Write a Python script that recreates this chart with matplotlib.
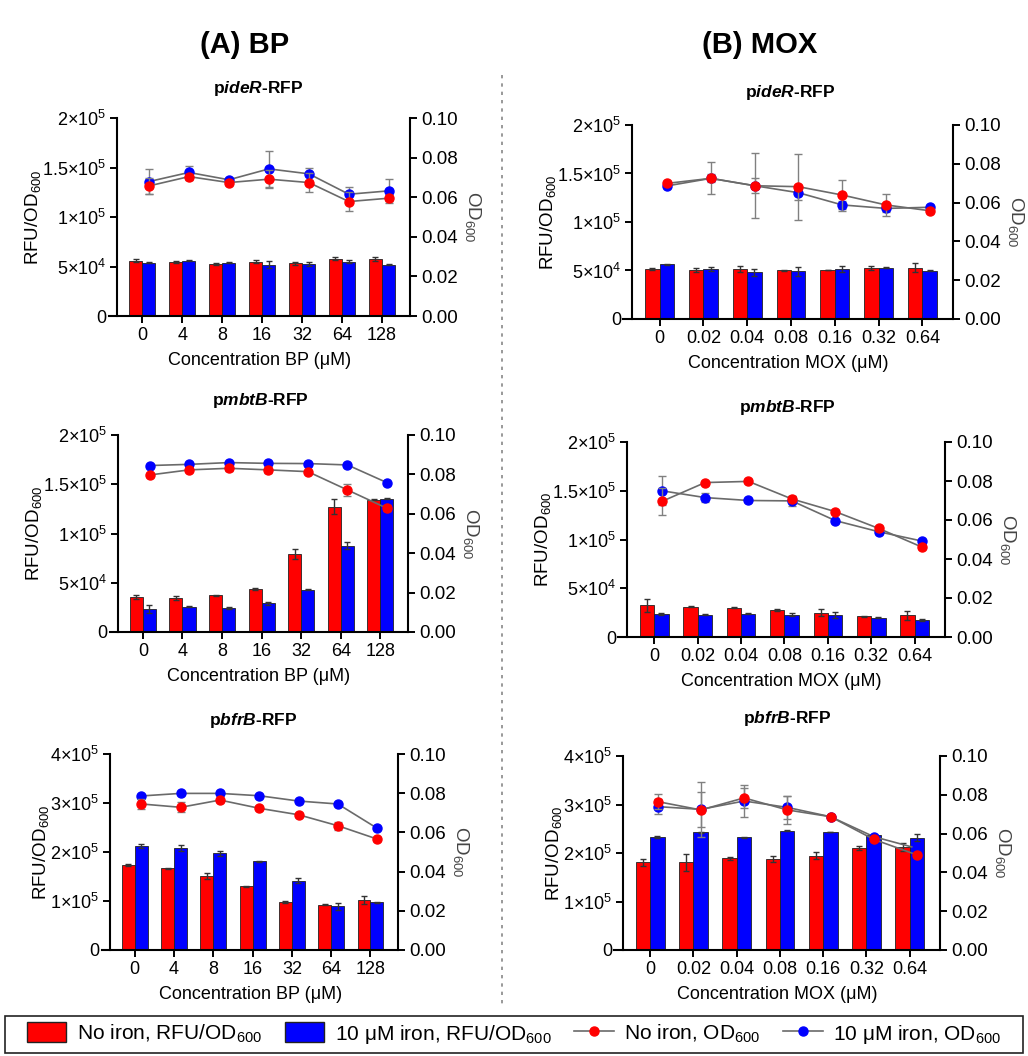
import matplotlib
matplotlib.use('Agg')
import matplotlib.pyplot as plt
import numpy as np
from matplotlib.lines import Line2D
from matplotlib.patches import Patch, Rectangle

plt.rcParams['font.family'] = ['Liberation Sans', 'DejaVu Sans']
plt.rcParams['mathtext.fontset'] = 'custom'
plt.rcParams['mathtext.rm'] = 'Liberation Sans'
plt.rcParams['mathtext.it'] = 'Liberation Sans:italic'
plt.rcParams['mathtext.bf'] = 'Liberation Sans:bold'
plt.rcParams['mathtext.bfit'] = 'Liberation Sans:bold:italic'

W, H = 1028, 1056
RED = '#ff0000'
BLUE = '#0000ff'
LINE = '#6a6a6a'
ECOL = '#808080'

bp_labels = ['0', '4', '8', '16', '32', '64', '128']
mox_labels = ['0', '0.02', '0.04', '0.08', '0.16', '0.32', '0.64']

# ---- pideR, BP ----
ideR_bp_rfu_no = [56000, 54500, 52500, 55000, 53500, 58000, 58000]
ideR_bp_rfu_no_err = [1500, 800, 1200, 1500, 1500, 1500, 2000]
ideR_bp_rfu_fe = [54000, 56000, 54000, 52000, 53000, 55000, 52000]
ideR_bp_rfu_fe_err = [800, 800, 800, 4000, 2000, 1500, 500]
ideR_bp_od_no = [0.0657, 0.0704, 0.0674, 0.0691, 0.0674, 0.0578, 0.0595]
ideR_bp_od_no_err = [0.004, 0.0015, 0.001, 0.0045, 0.005, 0.005, 0.0015]
ideR_bp_od_fe = [0.0679, 0.0725, 0.0688, 0.0743, 0.0718, 0.0615, 0.0632]
ideR_bp_od_fe_err = [0.0062, 0.0035, 0.001, 0.009, 0.003, 0.0035, 0.006]

# ---- pideR, MOX ----
ideR_mox_rfu_no = [51500, 50500, 51500, 50000, 50500, 53000, 53000]
ideR_mox_rfu_no_err = [800, 2000, 3500, 500, 500, 2000, 5000]
ideR_mox_rfu_fe = [56500, 51500, 48000, 49000, 51500, 53000, 49500]
ideR_mox_rfu_fe_err = [500, 2500, 3500, 5000, 3500, 800, 500]
ideR_mox_od_no = [0.0699, 0.0725, 0.0687, 0.0682, 0.0639, 0.0588, 0.0558]
ideR_mox_od_no_err = [0.001, 0.0082, 0.0167, 0.017, 0.008, 0.0055, 0.001]
ideR_mox_od_fe = [0.0686, 0.0725, 0.0687, 0.0651, 0.0588, 0.0570, 0.0576]
ideR_mox_od_fe_err = [0.001, 0.002, 0.004, 0.004, 0.002, 0.002, 0.001]

# ---- pmbtB, BP ----
mbtB_bp_rfu_no = [35100, 34100, 37200, 43600, 79000, 127400, 134100]
mbtB_bp_rfu_no_err = [2000, 2000, 500, 1000, 5000, 8000, 500]
mbtB_bp_rfu_fe = [23600, 25700, 24300, 29000, 42900, 87800, 135100]
mbtB_bp_rfu_fe_err = [4000, 500, 1000, 1500, 500, 4000, 500]
mbtB_bp_od_no = [0.0797, 0.0823, 0.0831, 0.0823, 0.0814, 0.0721, 0.0628]
mbtB_bp_od_no_err = [0.0008, 0.001, 0.0012, 0.0015, 0.0008, 0.003, 0.0015]
mbtB_bp_od_fe = [0.0845, 0.0851, 0.0860, 0.0856, 0.0855, 0.0848, 0.0758]
mbtB_bp_od_fe_err = [0.0005, 0.0005, 0.0005, 0.0005, 0.0005, 0.0005, 0.0005]

# ---- pmbtB, MOX ----
mbtB_mox_rfu_no = [32600, 30900, 29800, 27800, 25000, 21300, 22300]
mbtB_mox_rfu_no_err = [6500, 500, 500, 800, 3800, 500, 4800]
mbtB_mox_rfu_fe = [23700, 23000, 23700, 23000, 23000, 19900, 17500]
mbtB_mox_rfu_fe_err = [1000, 500, 500, 1500, 3000, 500, 1000]
mbtB_mox_od_no = [0.0695, 0.0792, 0.0798, 0.0708, 0.0643, 0.0557, 0.0461]
mbtB_mox_od_no_err = [0.007, 0.001, 0.001, 0.0015, 0.001, 0.001, 0.001]
mbtB_mox_od_fe = [0.0750, 0.0715, 0.0700, 0.0698, 0.0597, 0.0540, 0.0492]
mbtB_mox_od_fe_err = [0.0074, 0.0025, 0.001, 0.0025, 0.001, 0.001, 0.001]

# ---- pbfrB, BP ----
bfrB_bp_rfu_no = [172800, 166700, 151700, 129900, 98000, 92500, 101400]
bfrB_bp_rfu_no_err = [2000, 1000, 6000, 1000, 1500, 1000, 8000]
bfrB_bp_rfu_fe = [212200, 208200, 197300, 181000, 141500, 89100, 97300]
bfrB_bp_rfu_fe_err = [4000, 7000, 5000, 1000, 5000, 7000, 1000]
bfrB_bp_od_no = [0.0745, 0.0728, 0.0765, 0.0723, 0.0690, 0.0634, 0.0566]
bfrB_bp_od_no_err = [0.0025, 0.0025, 0.001, 0.001, 0.001, 0.002, 0.001]
bfrB_bp_od_fe = [0.0786, 0.0799, 0.0799, 0.0787, 0.0760, 0.0745, 0.0621]
bfrB_bp_od_fe_err = [0.0005, 0.0005, 0.0005, 0.0005, 0.0005, 0.0005, 0.0005]

# ---- pbfrB, MOX ----
bfrB_mox_rfu_no = [180700, 180700, 189000, 187600, 194500, 210300, 213100]
bfrB_mox_rfu_no_err = [7000, 18000, 3000, 7000, 7000, 4000, 8000]
bfrB_mox_rfu_fe = [232300, 242600, 232300, 246000, 243300, 237100, 231600]
bfrB_mox_rfu_fe_err = [2000, 1000, 500, 1000, 1000, 1000, 7000]
bfrB_mox_od_no = [0.0765, 0.0722, 0.0784, 0.0722, 0.0687, 0.0570, 0.0490]
bfrB_mox_od_no_err = [0.004, 0.009, 0.005, 0.007, 0.001, 0.001, 0.001]
bfrB_mox_od_fe = [0.0739, 0.0725, 0.0768, 0.0735, 0.0687, 0.0584, 0.0524]
bfrB_mox_od_fe_err = [0.004, 0.014, 0.008, 0.006, 0.001, 0.001, 0.001]

ticks_2e5 = [0, 5e4, 1e5, 1.5e5, 2e5]
labels_2e5 = ['0', r'5×10$^{4}$', r'1×10$^{5}$', r'1.5×10$^{5}$', r'2×10$^{5}$']
ticks_4e5 = [0, 1e5, 2e5, 3e5, 4e5]
labels_4e5 = ['0', r'1×10$^{5}$', r'2×10$^{5}$', r'3×10$^{5}$', r'4×10$^{5}$']

fig = plt.figure(figsize=(W / 100, H / 100), dpi=100)

XL, XR, EXT = -0.63, 6.7, 0.2


def panel(box, title, title_xy, xcats, xlabel, yticks, ylabels,
          rno, rno_e, rfe, rfe_e, ono, ono_e, ofe, ofe_e):
    L, R, T, B = box
    unit = (R - L) / (XR - XL)
    left_px = L - EXT * unit
    ax = fig.add_axes([left_px / W, 1 - B / H, (R - left_px) / W, (B - T) / H])
    x = np.arange(len(xcats))
    bw = 0.33
    ekw = dict(ecolor='#333333', elinewidth=1.0, capsize=2.5, capthick=1.0)
    ax.bar(x - bw / 2, rno, bw, color=RED, edgecolor='#222222', linewidth=0.6,
           yerr=rno_e, error_kw=ekw, zorder=2)
    ax.bar(x + bw / 2, rfe, bw, color=BLUE, edgecolor='#222222', linewidth=0.6,
           yerr=rfe_e, error_kw=ekw, zorder=2)
    ax.set_xlim(XL - EXT, XR)
    ax.set_ylim(0, yticks[-1])
    ax.set_yticks(yticks)
    ax.set_yticklabels(ylabels)
    ax.set_xticks(x)
    ax.set_xticklabels(xcats)
    ax.spines['left'].set_position(('data', XL))
    ax.spines['top'].set_visible(False)
    ax.spines['right'].set_visible(False)
    for s in ('left', 'bottom'):
        ax.spines[s].set_linewidth(1.5)
    ax.tick_params(direction='out', length=5, width=1.4, labelsize=13, pad=3)
    ax.set_ylabel('RFU/OD$_{600}$', fontsize=13.5, labelpad=-1)
    ax.set_xlabel(xlabel, fontsize=13, labelpad=6)

    ax2 = ax.twinx()
    ax2.set_ylim(0, 0.10)
    ax2.set_yticks([0, 0.02, 0.04, 0.06, 0.08, 0.10])
    ax2.set_yticklabels(['0.00', '0.02', '0.04', '0.06', '0.08', '0.10'])
    for s in ('left', 'top', 'bottom'):
        ax2.spines[s].set_visible(False)
    ax2.spines['right'].set_linewidth(1.5)
    ax2.tick_params(direction='out', length=5, width=1.4, labelsize=13.5, pad=3)
    ax2.set_ylabel('OD$_{600}$', fontsize=13.5, rotation=270, labelpad=18, color='#444444')
    xo = x + 0.17
    ax2.errorbar(xo, ofe, yerr=ofe_e, fmt='-o', color=LINE, lw=1.2, ms=6.5,
                 mfc=BLUE, mec=BLUE, ecolor=ECOL, elinewidth=1.0, capsize=3, zorder=3)
    ax2.errorbar(xo, ono, yerr=ono_e, fmt='-o', color=LINE, lw=1.2, ms=6.5,
                 mfc=RED, mec=RED, ecolor=ECOL, elinewidth=1.0, capsize=3, zorder=4)
    fig.text(title_xy[0] / W, 1 - title_xy[1] / H, title, ha='center', va='center',
             fontsize=12.5, fontweight='bold')
    return ax


panel((117, 410, 118, 316), r'p$\mathbfit{ideR}$-RFP', (258, 88), bp_labels,
      'Concentration BP (μM)', ticks_2e5, labels_2e5,
      ideR_bp_rfu_no, ideR_bp_rfu_no_err, ideR_bp_rfu_fe, ideR_bp_rfu_fe_err,
      ideR_bp_od_no, ideR_bp_od_no_err, ideR_bp_od_fe, ideR_bp_od_fe_err)
panel((632, 953, 125, 319), r'p$\mathbfit{ideR}$-RFP', (790, 92), mox_labels,
      'Concentration MOX (μM)', ticks_2e5, labels_2e5,
      ideR_mox_rfu_no, ideR_mox_rfu_no_err, ideR_mox_rfu_fe, ideR_mox_rfu_fe_err,
      ideR_mox_od_no, ideR_mox_od_no_err, ideR_mox_od_fe, ideR_mox_od_fe_err)
panel((118, 408, 435, 632), r'p$\mathbfit{mbtB}$-RFP', (260, 400), bp_labels,
      'Concentration BP (μM)', ticks_2e5, labels_2e5,
      mbtB_bp_rfu_no, mbtB_bp_rfu_no_err, mbtB_bp_rfu_fe, mbtB_bp_rfu_fe_err,
      mbtB_bp_od_no, mbtB_bp_od_no_err, mbtB_bp_od_fe, mbtB_bp_od_fe_err)
panel((627, 945, 442, 637), r'p$\mathbfit{mbtB}$-RFP', (787, 407), mox_labels,
      'Concentration MOX (μM)', ticks_2e5, labels_2e5,
      mbtB_mox_rfu_no, mbtB_mox_rfu_no_err, mbtB_mox_rfu_fe, mbtB_mox_rfu_fe_err,
      mbtB_mox_od_no, mbtB_mox_od_no_err, mbtB_mox_od_fe, mbtB_mox_od_fe_err)
panel((110, 398, 754, 950), r'p$\mathbfit{bfrB}$-RFP', (253, 720), bp_labels,
      'Concentration BP (μM)', ticks_4e5, labels_4e5,
      bfrB_bp_rfu_no, bfrB_bp_rfu_no_err, bfrB_bp_rfu_fe, bfrB_bp_rfu_fe_err,
      bfrB_bp_od_no, bfrB_bp_od_no_err, bfrB_bp_od_fe, bfrB_bp_od_fe_err)
panel((623, 940, 756, 950), r'p$\mathbfit{bfrB}$-RFP', (787, 718), mox_labels,
      'Concentration MOX (μM)', ticks_4e5, labels_4e5,
      bfrB_mox_rfu_no, bfrB_mox_rfu_no_err, bfrB_mox_rfu_fe, bfrB_mox_rfu_fe_err,
      bfrB_mox_od_no, bfrB_mox_od_no_err, bfrB_mox_od_fe, bfrB_mox_od_fe_err)

fig.text(245 / W, 1 - 45 / H, '(A) BP', ha='center', va='center', fontsize=21, fontweight='bold')
fig.text(760 / W, 1 - 45 / H, '(B) MOX', ha='center', va='center', fontsize=21, fontweight='bold')

fig.add_artist(Line2D([502 / W, 502 / W], [1 - 75 / H, 1 - 1005 / H], transform=fig.transFigure,
                      ls=(0, (2, 3)), color='#888888', lw=1.2))

# legend frame spanning the full width
fig.add_artist(Rectangle((5 / W, 3 / H), 1018 / W, 37 / H, transform=fig.transFigure,
                         facecolor='white', edgecolor='#222222', linewidth=1.2, zorder=5))

handles = [
    Patch(facecolor=RED, edgecolor='#222222', linewidth=1.0),
    Patch(facecolor=BLUE, edgecolor='#222222', linewidth=1.0),
    Line2D([0], [0], color=LINE, lw=1.2, marker='o', ms=6.5, mfc=RED, mec=RED),
    Line2D([0], [0], color=LINE, lw=1.2, marker='o', ms=6.5, mfc=BLUE, mec=BLUE),
]
leg_labels = ['No iron, RFU/OD$_{600}$', '10 μM iron, RFU/OD$_{600}$',
              'No iron, OD$_{600}$', '10 μM iron, OD$_{600}$']
leg = fig.legend(handles, leg_labels, loc='center',
                 bbox_to_anchor=(0.5, 1 - 1034 / H),
                 ncol=4, fontsize=15, frameon=False,
                 handlelength=1.9, handleheight=1.1, handletextpad=0.5,
                 columnspacing=1.1, borderpad=0.2)
leg.set_zorder(6)

fig.savefig('out.png', dpi=100)
